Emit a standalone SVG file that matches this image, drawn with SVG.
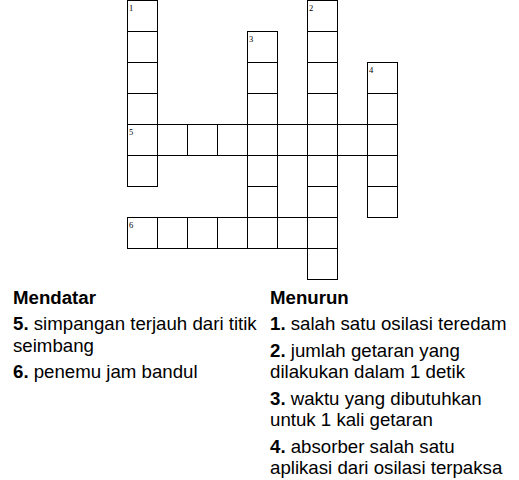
<svg xmlns="http://www.w3.org/2000/svg" width="519" height="480" viewBox="0 0 519 480">
<style>
.cell{fill:#fff;stroke:#000;stroke-width:1}
.num{font-family:"Liberation Serif",serif;font-size:8.5px;fill:#000}
.clue{font-family:"Liberation Sans",Arial,sans-serif;font-size:18.67px;fill:#000}
.b{font-weight:bold}
</style>
<rect width="519" height="480" fill="#fff"/>
<g id="grid">
<g id="word-1">
<rect class="cell" x="127.5" y="0.5" width="30" height="31"/>
<rect class="cell" x="127.5" y="31.5" width="30" height="31"/>
<rect class="cell" x="127.5" y="62.5" width="30" height="31"/>
<rect class="cell" x="127.5" y="93.5" width="30" height="31"/>
<rect class="cell" x="127.5" y="155.5" width="30" height="31"/>
</g>
<g id="word-5">
<rect class="cell" x="127.5" y="124.5" width="30" height="31"/>
<rect class="cell" x="157.5" y="124.5" width="30" height="31"/>
<rect class="cell" x="187.5" y="124.5" width="30" height="31"/>
<rect class="cell" x="217.5" y="124.5" width="30" height="31"/>
<rect class="cell" x="247.5" y="124.5" width="30" height="31"/>
<rect class="cell" x="277.5" y="124.5" width="30" height="31"/>
<rect class="cell" x="307.5" y="124.5" width="30" height="31"/>
<rect class="cell" x="337.5" y="124.5" width="30" height="31"/>
<rect class="cell" x="367.5" y="124.5" width="30" height="31"/>
</g>
<g id="word-3">
<rect class="cell" x="247.5" y="31.5" width="30" height="31"/>
<rect class="cell" x="247.5" y="62.5" width="30" height="31"/>
<rect class="cell" x="247.5" y="93.5" width="30" height="31"/>
<rect class="cell" x="247.5" y="155.5" width="30" height="31"/>
<rect class="cell" x="247.5" y="186.5" width="30" height="31"/>
</g>
<g id="word-2">
<rect class="cell" x="307.5" y="0.5" width="30" height="31"/>
<rect class="cell" x="307.5" y="31.5" width="30" height="31"/>
<rect class="cell" x="307.5" y="62.5" width="30" height="31"/>
<rect class="cell" x="307.5" y="93.5" width="30" height="31"/>
<rect class="cell" x="307.5" y="155.5" width="30" height="31"/>
<rect class="cell" x="307.5" y="186.5" width="30" height="31"/>
<rect class="cell" x="307.5" y="248.5" width="30" height="31"/>
</g>
<g id="word-4">
<rect class="cell" x="367.5" y="62.5" width="30" height="31"/>
<rect class="cell" x="367.5" y="93.5" width="30" height="31"/>
<rect class="cell" x="367.5" y="155.5" width="30" height="31"/>
<rect class="cell" x="367.5" y="186.5" width="30" height="31"/>
</g>
<g id="word-6">
<rect class="cell" x="127.5" y="217.5" width="30" height="31"/>
<rect class="cell" x="157.5" y="217.5" width="30" height="31"/>
<rect class="cell" x="187.5" y="217.5" width="30" height="31"/>
<rect class="cell" x="217.5" y="217.5" width="30" height="31"/>
<rect class="cell" x="247.5" y="217.5" width="30" height="31"/>
<rect class="cell" x="277.5" y="217.5" width="30" height="31"/>
<rect class="cell" x="307.5" y="217.5" width="30" height="31"/>
</g>
</g>
<g id="numbers">
<text class="num" x="129" y="10.5">1</text>
<text class="num" x="309" y="10.5">2</text>
<text class="num" x="249" y="41.5">3</text>
<text class="num" x="369" y="72.5">4</text>
<text class="num" x="129" y="134.5">5</text>
<text class="num" x="129" y="227.5">6</text>
</g>
<g id="clues-mendatar">
<text class="clue b" x="13" y="304">Mendatar</text>
<text class="clue" x="13" y="330"><tspan class="b">5.</tspan> simpangan terjauh dari titik</text>
<text class="clue" x="13" y="351.5">seimbang</text>
<text class="clue" x="13" y="378"><tspan class="b">6.</tspan> penemu jam bandul</text>
</g>
<g id="clues-menurun">
<text class="clue b" x="270" y="304">Menurun</text>
<text class="clue" x="270" y="330"><tspan class="b">1.</tspan> salah satu osilasi teredam</text>
<text class="clue" x="270" y="356.5"><tspan class="b">2.</tspan> jumlah getaran yang</text>
<text class="clue" x="270" y="378">dilakukan dalam 1 detik</text>
<text class="clue" x="270" y="404.5"><tspan class="b">3.</tspan> waktu yang dibutuhkan</text>
<text class="clue" x="270" y="426">untuk 1 kali getaran</text>
<text class="clue" x="270" y="452.5"><tspan class="b">4.</tspan> absorber salah satu</text>
<text class="clue" x="270" y="474">aplikasi dari osilasi terpaksa</text>
</g>
</svg>
